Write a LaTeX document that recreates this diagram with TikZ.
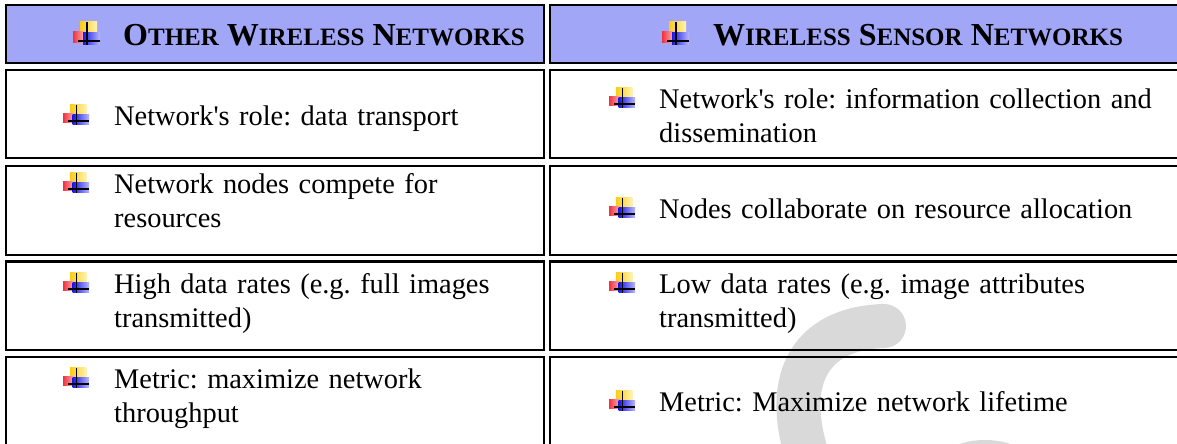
\documentclass[tikz,border=0pt]{standalone}
\usepackage{fontspec}
\setmainfont[Ligatures=TeXOff]{Liberation Serif}
\frenchspacing

\definecolor{headfill}{RGB}{161,166,247}
\definecolor{wmgray}{RGB}{217,217,217}
\definecolor{bulYa}{RGB}{250,205,20}
\definecolor{bulYb}{RGB}{255,242,180}
\definecolor{bulRa}{RGB}{240,50,60}
\definecolor{bulRb}{RGB}{255,205,210}
\definecolor{bulBa}{RGB}{25,25,230}
\definecolor{bulBb}{RGB}{185,185,255}

% heading letters: large initial, smaller capitals after it
\newcommand\hcap[2]{{\fontsize{32}{34}\selectfont #1}{\fontsize{25}{30}\selectfont #2}}

\tikzset{
  cellbox/.style={rectangle, draw=black, line width=2.4pt, inner sep=0pt, outer sep=0pt},
  headcell/.style={cellbox, fill=headfill},
  bodytext/.style={anchor=base west, inner sep=0pt, text width=520pt, align=left,
                   font=\fontsize{28.4}{34}\selectfont},
  headtext/.style={anchor=base west, inner sep=0pt, font=\fontsize{32}{34}\selectfont\bfseries},
  bullet/.pic={
    \fill[left color=bulYa, right color=bulYb] (7,0) rectangle (24,11);
    \fill[left color=bulRa, right color=bulRb] (0,10) rectangle (14,21);
    \fill[left color=bulBa, right color=bulBb] (10,11) rectangle (27,23);
    \draw[line width=1.6pt] (14,0) -- (14,23);
    \draw[line width=1.6pt] (5,19) -- (27,19);
  }
}

\begin{document}
\begin{tikzpicture}[x=1pt, y=-1pt]
\useasboundingbox (0,0) rectangle (1177,444);

% faint logo mark in the background
\draw[wmgray, line width=44pt, line cap=round]
  (884,326) .. controls (810,328) and (778,380) .. (812,470);
\fill[wmgray] (985,475) ellipse [x radius=55, y radius=35];

% table cells
\node[headcell, minimum width=538pt, minimum height=58pt] (lh) at (275,34) {};
\node[headcell, minimum width=640pt, minimum height=58pt] (rh) at (870,34) {};
\node[cellbox, minimum width=538pt, minimum height=88pt] (l1) at (275,114) {};
\node[cellbox, minimum width=640pt, minimum height=88pt] (r1) at (870,114) {};
\node[cellbox, minimum width=538pt, minimum height=89pt] (l2) at (275,210.5) {};
\node[cellbox, minimum width=640pt, minimum height=89pt] (r2) at (870,210.5) {};
\node[cellbox, minimum width=538pt, minimum height=88.5pt] (l3) at (275,305.75) {};
\node[cellbox, minimum width=640pt, minimum height=88.5pt] (r3) at (870,305.75) {};
\node[cellbox, minimum width=538pt, minimum height=103pt] (l4) at (275,408.5) {};
\node[cellbox, minimum width=640pt, minimum height=103pt] (r4) at (870,408.5) {};

% headings
\pic at (73,22) {bullet};
\node[headtext] (lht) at (123,45.5) {\hcap{O}{THER} \hcap{W}{IRELESS} \hcap{N}{ETWORKS}};
\pic at (662,22) {bullet};
\node[headtext] (rht) at (713,45.5) {\hcap{W}{IRELESS} \hcap{S}{ENSOR} \hcap{N}{ETWORKS}};

% left column entries
\pic[xscale=0.97, yscale=0.88] at (63,104.5) {bullet};
\node[bodytext] (l1t) at (114,125) {Network's role: data transport};
\pic[xscale=0.97, yscale=0.88] at (63,172.5) {bullet};
\node[bodytext] (l2t) at (114,193) {Network nodes compete for\\resources};
\pic[xscale=0.97, yscale=0.88] at (63,272.5) {bullet};
\node[bodytext] (l3t) at (114,293) {High data rates (e.g. full images\\transmitted)};
\pic[xscale=0.97, yscale=0.88] at (63,367.5) {bullet};
\node[bodytext] (l4t) at (114,388) {Metric: maximize network\\throughput};

% right column entries
\pic[xscale=0.97, yscale=0.88] at (609,87.5) {bullet};
\node[bodytext] (r1t) at (659,108) {Network's role: information collection and\\dissemination};
\pic[xscale=0.97, yscale=0.88] at (609,197.5) {bullet};
\node[bodytext] (r2t) at (659,218) {Nodes collaborate on resource allocation};
\pic[xscale=0.97, yscale=0.88] at (609,272.5) {bullet};
\node[bodytext] (r3t) at (659,293) {Low data rates (e.g. image attributes\\transmitted)};
\pic[xscale=0.97, yscale=0.88] at (609,390.5) {bullet};
\node[bodytext] (r4t) at (659,411) {Metric: Maximize network lifetime};
\end{tikzpicture}
\end{document}
